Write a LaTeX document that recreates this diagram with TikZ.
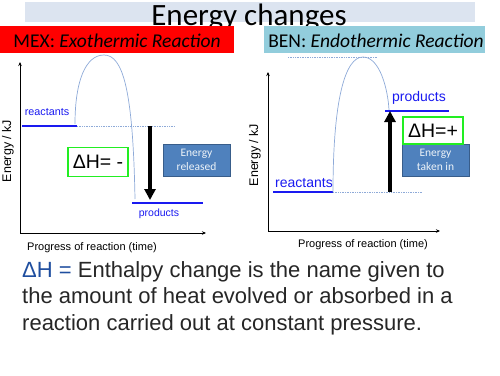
\documentclass[tikz,border=0pt]{standalone}
\usepackage{fontspec}
\setmainfont{Liberation Sans}
\newfontfamily\carl{Carlito}
\usetikzlibrary{arrows.meta}
\definecolor{titlebg}{HTML}{DCE4F0}
\definecolor{mexred}{HTML}{FF0000}
\definecolor{benblue}{HTML}{92CDDC}
\definecolor{lvl}{HTML}{1A1AF0}
\definecolor{curve}{HTML}{8EAAD8}
\definecolor{dotc}{HTML}{8EAAD8}
\definecolor{boxfill}{HTML}{4F81BD}
\definecolor{boxdraw}{HTML}{385D8A}
\definecolor{greenb}{HTML}{22EE22}
\definecolor{bodytext}{HTML}{262626}
\definecolor{dhblue}{HTML}{1F4E9F}
\tikzset{
  level/.style={draw=lvl, line width=1.6pt},
  lvllabel/.style={text=lvl, inner sep=0pt},
  axis/.style={draw=black, line width=0.8pt, -{Stealth[length=4pt,width=3.5pt]}},
  arch/.style={draw=curve, line width=0.7pt},
  dotline/.style={draw=dotc, line width=0.7pt, densely dotted},
  bigarrow/.style={draw=black, line width=3.6pt, -{Triangle[length=11pt,width=11pt]}},
  dhbox/.style={draw=greenb, line width=1.6pt, fill=white, inner sep=0pt, font=\fontsize{19.5}{22}\selectfont},
  ebox/.style={draw=boxdraw, line width=0.8pt, fill=boxfill, text=white!90!boxfill, inner sep=0pt, align=center, font=\carl\fontsize{11.5}{14.5}\selectfont},
  axlabel/.style={font=\fontsize{11}{13}\selectfont, inner sep=0pt},
  ylabel/.style={font=\fontsize{12.5}{14}\selectfont, inner sep=0pt, rotate=90},
  headbox/.style={minimum height=27pt, inner sep=0pt},
  headtext/.style={font=\carl\fontsize{19.5}{22}\selectfont, inner sep=0pt, anchor=base},
  bodyline/.style={anchor=base west, inner sep=0pt, text=bodytext, font=\fontsize{22}{26.5}\selectfont},
}
\begin{document}
\begin{tikzpicture}[x=1pt,y=-1pt]
\useasboundingbox (0,0) rectangle (500,375);
% title
\fill[titlebg] (25,2) rectangle (475,22);
\node[font=\carl\fontsize{31}{33}\selectfont, inner sep=0pt, anchor=base] (title) at (249,25) {Energy changes};
% headers
\node[headbox, fill=mexred, minimum width=234pt] (mex) at (117,39.5) {};
\node[headtext] (mext) at (117,47.5) {MEX: \textit{Exothermic Reaction}};
\node[headbox, fill=benblue, minimum width=221pt] (ben) at (374.5,39.5) {};
\node[headtext] (bent) at (376,47.5) {BEN: \textit{Endothermic Reaction}};

% ---------- left diagram ----------
\coordinate (lO) at (20,233);
\coordinate (lY) at (20,62);
\coordinate (lX) at (206,233);
\draw[axis] (lO) -- (lY);
\draw[axis] (lO) -- (lX);
\node[ylabel] (lyl) at (8,151) {Energy / kJ};
\node[axlabel] (lxl) at (92,248) {Progress of reaction (time)};
\coordinate (lr1) at (22,126);
\coordinate (lr2) at (77,126);
\coordinate (ld2) at (175,126);
\draw[level] (lr1) -- (lr2);
\draw[dotline] (lr2) -- (ld2);
\node[lvllabel, font=\fontsize{10.8}{12}\selectfont] (lrl) at (47,112) {reactants};
\coordinate (lp1) at (132,203);
\coordinate (lp2) at (203,203);
\draw[level] (lp1) -- (lp2);
\node[lvllabel, font=\fontsize{10.5}{12}\selectfont] (lpl) at (159,214) {products};
\draw[arch] (75,124) .. controls (75,80) and (86,55) .. (104,55) .. controls (123,55) and (133,90) .. (135,199);
\coordinate (la1) at (150,126);
\coordinate (la2) at (150,200);
\draw[bigarrow] (la1) -- (la2);
\node[dhbox, minimum width=60pt, minimum height=29pt] (ldh) at (98,162) {ΔH= -};
\node[ebox, minimum width=67pt, minimum height=32pt] (lbox) at (196.5,160) {Energy\\released};

% ---------- right diagram ----------
\coordinate (rO) at (268,231);
\coordinate (rY) at (268,72);
\coordinate (rX) at (440,231);
\draw[axis] (rO) -- (rY);
\draw[axis] (rO) -- (rX);
\node[ylabel] (ryl) at (255,155) {Energy / kJ};
\node[axlabel] (rxl) at (363,245) {Progress of reaction (time)};
\coordinate (rt1) at (288,57);
\coordinate (rt2) at (377,57);
\draw[dotline] (rt1) -- (rt2);
\coordinate (rr1) at (273,192);
\coordinate (rr2) at (333,192);
\coordinate (rd2) at (423,192);
\draw[level] (rr1) -- (rr2);
\draw[dotline] (rr2) -- (rd2);
\node[lvllabel, font=\fontsize{14}{16}\selectfont] (rrl) at (304,183) {reactants};
\coordinate (rp1) at (385,111);
\coordinate (rp2) at (449,111);
\draw[level] (rp1) -- (rp2);
\node[lvllabel, font=\fontsize{14}{16}\selectfont] (rpl) at (419,98) {products};
\draw[arch] (333,192) .. controls (333,100) and (345,57) .. (363,57) .. controls (380,57) and (388,90) .. (389,110);
\coordinate (ra1) at (390,192);
\coordinate (ra2) at (390,111);
\draw[bigarrow] (ra1) -- (ra2);
\node[ebox, minimum width=67pt, minimum height=32pt] (rbox) at (435.5,160) {Energy\\taken in};
\node[dhbox, minimum width=60pt, minimum height=27pt] (rdh) at (433,130.5) {ΔH=+};

% ---------- bottom text ----------
\node[bodyline] (body1) at (22,277) {\textcolor{dhblue}{ΔH =} Enthalpy change is the name given to};
\node[bodyline] (body2) at (22,303.5) {the amount of heat evolved or absorbed in a};
\node[bodyline] (body3) at (22,330) {reaction carried out at constant pressure.};
\end{tikzpicture}
\end{document}
